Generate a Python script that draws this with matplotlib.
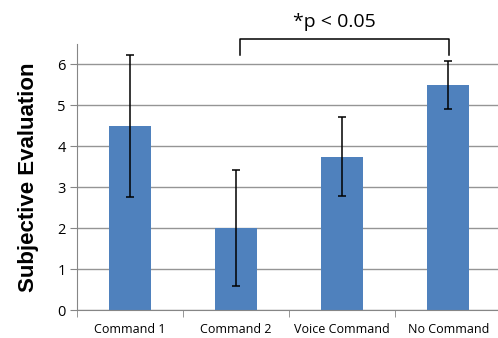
import numpy as np
import matplotlib.pyplot as plt

# mean scores and error bar half-widths per condition
conditions = ['Command 1', 'Command 2', 'Voice Command', 'No Command']
means = [4.5, 2.0, 3.75, 5.5]
errors = [1.73, 1.41, 0.96, 0.58]

plt.rcParams['font.family'] = ['Open Sans', 'DejaVu Sans']

fig = plt.figure(figsize=(4.98, 3.38), dpi=100)
ax = fig.add_axes([0.1546, 0.0828, 0.852, 0.787])

x = np.arange(len(conditions))
ax.bar(x, means, width=0.4, color='#4F81BD', zorder=3)
ax.errorbar(x, means, yerr=errors, fmt='none', ecolor='black',
            elinewidth=1.1, capsize=3, capthick=1.1, zorder=4)

ax.set_xlim(-0.5, 3.5)
ax.set_ylim(0, 6.5)
ax.set_yticks(range(0, 7))
ax.set_xticks(x)
ax.set_xticklabels(conditions, fontsize=9)
ax.set_xticks(np.arange(-0.5, 4, 1), minor=True)
ax.tick_params(axis='x', which='major', length=0, pad=9)
ax.tick_params(axis='x', which='minor', length=5, color='#868686', direction='out')
ax.tick_params(axis='y', length=5, color='#868686', labelsize=10.5, pad=3)

ax.grid(axis='y', color='#959595', linewidth=1, zorder=0)
for s in ['top', 'right']:
    ax.spines[s].set_visible(False)
for s in ['left', 'bottom']:
    ax.spines[s].set_color('#868686')
    ax.spines[s].set_zorder(5)

ax.set_ylabel('Subjective Evaluation', fontsize=16, fontweight='bold',
              family=['Liberation Sans', 'DejaVu Sans'], labelpad=13)

# significance bracket between Command 2 and No Command
bx0, bx1, by_top, by_leg = 1.04, 3.01, 6.62, 6.24
ax.plot([bx0, bx0, bx1, bx1], [by_leg, by_top, by_top, by_leg],
        color='black', linewidth=1.1, clip_on=False)
ax.text(1.93, 6.82, '*p < 0.05', ha='center', va='bottom', fontsize=14)

fig.savefig('out.png', dpi=100)
